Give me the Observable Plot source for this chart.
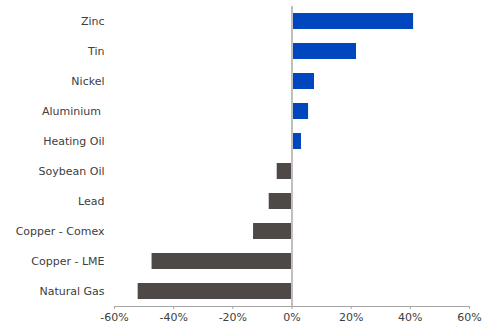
<!DOCTYPE html>
<html>
<head>
<meta charset="utf-8">
<script src="https://cdn.jsdelivr.net/npm/d3@7"></script>
<script src="https://cdn.jsdelivr.net/npm/@observablehq/plot@0.6"></script>
<style>
  html, body { margin: 0; padding: 0; background: #fff; }
  #chart svg { display: block; }
</style>
</head>
<body>
<div id="chart"></div>
<script>
const commodities = ["Zinc", "Tin", "Nickel", "Aluminium ", "Heating Oil", "Soybean Oil", "Lead", "Copper - Comex", "Copper - LME", "Natural Gas"];
const changes = [41.1, 21.8, 7.6, 5.6, 3.2, -5.0, -7.7, -13.0, -47.3, -52.0];
const xTicks = [-60, -40, -20, 0, 20, 40, 60];

const data = commodities.map((name, i) => ({name, value: changes[i]}));

const chart = Plot.plot({
  width: 483,
  height: 329,
  marginTop: 6,
  marginBottom: 23,
  marginLeft: 114,
  marginRight: 14,
  style: {fontFamily: "'DejaVu Sans', sans-serif", fontSize: "11px", color: "#404040", background: "#fff"},
  x: {domain: [-60, 60], ticks: xTicks, tickFormat: d => d + "%"},
  y: {domain: commodities, paddingInner: 0.47, paddingOuter: 0.235},
  marks: [
    Plot.barX(data, {x: "value", y: "name", fill: d => d.value >= 0 ? "#0046be" : "#4e4946"}),
    Plot.frame({anchor: "bottom", stroke: "#a6a6a6"}),
    Plot.ruleX([0], {stroke: "#bfbfbf", strokeWidth: 2}),
    Plot.axisX({ticks: xTicks, tickFormat: d => d + "%", tickSize: 3, stroke: "#a6a6a6", tickPadding: 4, label: null, color: "#404040"}),
    Plot.axisY({tickSize: 0, tickPadding: 10, label: null})
  ]
});
document.getElementById("chart").append(chart);
</script>
</body>
</html>
